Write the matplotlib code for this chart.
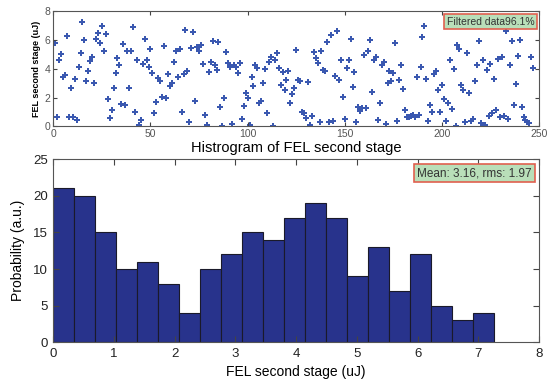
import numpy as np
import matplotlib
matplotlib.use("Agg")
import matplotlib.pyplot as plt

plt.rcParams['font.family'] = ['Liberation Sans', 'DejaVu Sans']

# FEL second stage energy per shot (uJ)
fel_energy = [
    5.78, 0.67, 4.64, 5.01, 3.43, 3.60, 6.29, 0.63, 2.67, 0.63,
    3.27, 0.46, 4.10, 5.10, 7.26, 5.99, 3.16, 3.87, 4.55, 4.83,
    3.02, 6.10, 6.47, 5.82, 6.96, 5.27, 6.43, 1.93, 0.56, 1.16,
    2.67, 3.69, 4.73, 4.25, 1.58, 5.71, 1.48, 5.27, 2.67, 5.27,
    6.91, 1.02, 4.59, 0.07, 0.42, 4.32, 6.08, 4.59, 4.10, 5.38,
    3.69, 0.95, 1.67, 3.39, 3.16, 2.06, 5.57, 1.95, 3.64, 2.78,
    3.04, 4.50, 5.27, 3.46, 5.41, 0.97, 3.64, 6.71, 3.87, 0.30,
    5.45, 6.59, 1.74, 5.52, 5.22, 5.64, 4.34, 0.79, 0.12, 3.76,
    4.48, 5.92, 4.25, 3.92, 5.87, 1.35, 0.05, 2.00, 5.17, 4.43,
    4.10, 0.16, 4.25, 4.15, 3.69, 4.43, 0.49, 1.44, 2.30, 1.95,
    0.07, 3.46, 2.78, 4.25, 4.06, 1.60, 1.76, 3.04, 3.99, 0.90,
    4.48, 4.80, 0.05, 4.62, 5.10, 4.06, 2.85, 3.78, 2.51, 3.23,
    3.83, 1.62, 2.25, 2.67, 5.31, 3.20, 3.16, 1.02, 0.95, 0.60,
    3.09, 0.07, 0.72, 5.17, 4.78, 4.43, 0.30, 5.27, 3.92, 3.85,
    5.87, 0.30, 6.38, 0.39, 3.50, 6.61, 3.20, 4.59, 2.04, 0.53,
    4.04, 4.64, 6.10, 2.76, 3.76, 0.32, 1.37, 1.07, 1.28, 4.94,
    1.28, 5.27, 6.03, 2.37, 4.59, 4.83, 0.42, 1.62, 4.29, 4.45,
    0.19, 3.04, 3.83, 3.16, 3.71, 5.82, 0.35, 3.23, 4.29, 2.62,
    1.16, 0.65, 0.67, 0.74, 0.79, 0.65, 3.46, 0.81, 4.10, 6.19,
    6.96, 3.29, 0.35, 1.51, 0.97, 3.62, 3.83, 2.55, 1.02, 2.90,
    1.88, 0.35, 1.62, 4.59, 1.21, 3.99, 0.05, 5.66, 5.41, 2.90,
    2.55, 0.30, 5.13, 2.34, 0.35, 0.51, 3.13, 4.25, 5.96, 0.26,
    4.62, 0.12, 3.94, 0.72, 4.36, 0.90, 3.27, 1.14, 4.71, 0.67,
    4.85, 0.72, 6.66, 0.51, 4.29, 5.94, 1.51, 2.97, 4.92, 5.99,
    1.37, 0.65, 0.46, 0.32, 0.23, 4.85, 4.06,
]
shot = np.arange(1, len(fel_energy) + 1)

# histogram counts per bin
hist_counts = [21, 20, 15, 10, 11, 8, 4, 10, 12, 15, 14,
               17, 19, 17, 9, 13, 7, 12, 5, 3, 4]
hist_max = 7.25
bin_edges = np.linspace(0, hist_max, len(hist_counts) + 1)

filter_text = 'Filtered data96.1%'
stats_text = 'Mean: 3.16, rms: 1.97'

box_style = dict(boxstyle='square,pad=0.25', facecolor='#b9dfb9',
                 edgecolor='#e0604f', linewidth=1.2)

fig = plt.figure(figsize=(5.47, 3.84), dpi=100)

# top: energy vs shot number
ax1 = fig.add_axes([0.0975, 0.671, 0.888, 0.2995])
ax1.scatter(shot, fel_energy, marker='P', s=14, color='#3a58b0', linewidths=0)
ax1.set_xlim(0, 250)
ax1.set_ylim(0, 8)
ax1.set_xticks([0, 50, 100, 150, 200, 250])
ax1.set_yticks([0, 2, 4, 6, 8])
ax1.tick_params(direction='in', top=True, right=True, labelsize=7.5,
                labelcolor='#555555', length=3, color='#444444', pad=2)
ax1.set_ylabel('FEL second stage (uJ)', fontsize=6.5, fontweight='bold',
               labelpad=3)
for s in ax1.spines.values():
    s.set_color('#555555')
ax1.text(0.99, 0.955, filter_text, transform=ax1.transAxes, ha='right',
         va='top', fontsize=7.5, color='#333333', bbox=box_style, zorder=5)

# bottom: histogram
ax2 = fig.add_axes([0.0975, 0.1086, 0.888, 0.477])
ax2.bar(bin_edges[:-1], hist_counts, width=np.diff(bin_edges), align='edge',
        color='#28338c', edgecolor='#1a1a2a', linewidth=0.8)
ax2.set_xlim(0, 8)
ax2.set_ylim(0, 25)
ax2.set_xticks(range(0, 9))
ax2.set_yticks([0, 5, 10, 15, 20, 25])
ax2.tick_params(direction='in', top=True, right=True, labelsize=9.5,
                labelcolor='#222222', length=4, color='#444444', pad=4)
ax2.set_xlabel('FEL second stage (uJ)', fontsize=10, labelpad=4)
ax2.set_ylabel('Probability (a.u.)', fontsize=10, labelpad=6)
ax2.set_title('Histrogram of FEL second stage', fontsize=10.5, pad=5)
for s in ax2.spines.values():
    s.set_color('#555555')
ax2.text(0.985, 0.955, stats_text, transform=ax2.transAxes, ha='right',
         va='top', fontsize=8.5, color='#333333', bbox=box_style, zorder=5)

fig.savefig('out.png', dpi=100)
